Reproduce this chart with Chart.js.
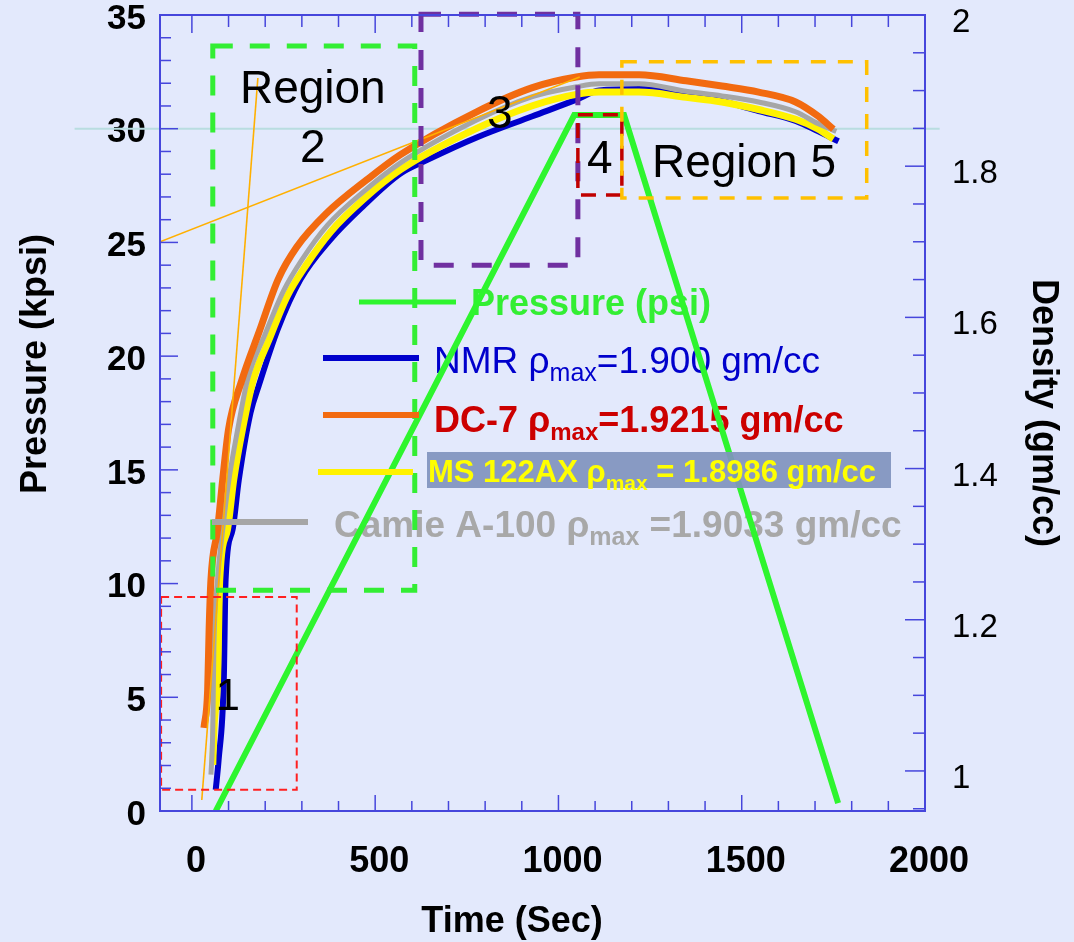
<!DOCTYPE html>
<html>
<head>
<meta charset="utf-8">
<script src="https://cdn.jsdelivr.net/npm/chart.js@4.4.0/dist/chart.umd.min.js"></script>
<style>
    html, body { margin: 0; padding: 0; background: #e3e9fc; }
    #wrap { width: 1074px; height: 942px; }
</style>
</head>
<body>
<div id="wrap"><canvas id="c_density"></canvas></div>
<script>
// **** DATA (time in sec, density in gm/cc, pressure in kpsi)
const nmrTime = [65, 73, 87, 92, 111, 128, 160, 182, 234, 296, 378, 467, 568, 641, 777, 929, 1049, 1111, 1220, 1348, 1446, 1546, 1647, 1709, 1764]
const nmrDensity = [0.975, 1.015, 1.12, 1.253, 1.319, 1.385, 1.474, 1.509, 1.584, 1.650, 1.703, 1.747, 1.790, 1.808, 1.838, 1.866, 1.888, 1.900, 1.902, 1.895, 1.886, 1.873, 1.860, 1.846, 1.833]

const dc7Time = [33, 43, 47, 52, 70, 84, 100, 135, 185, 235, 286, 368, 477, 568, 777, 929, 1049, 1111, 1220, 1348, 1446, 1546, 1647, 1709, 1750]
const dc7Density = [1.057, 1.107, 1.187, 1.253, 1.319, 1.385, 1.452, 1.515, 1.583, 1.650, 1.693, 1.738, 1.782, 1.815, 1.872, 1.904, 1.918, 1.921, 1.921, 1.913, 1.906, 1.898, 1.885, 1.866, 1.849]

const ms122Time = [57, 60, 70, 76, 97, 114, 138, 168, 210, 260, 310, 380, 470, 568, 777, 929, 1049, 1111, 1220, 1348, 1446, 1546, 1647, 1709, 1750]
const ms122Density = [1.008, 1.054, 1.12, 1.253, 1.319, 1.385, 1.452, 1.518, 1.570, 1.628, 1.668, 1.714, 1.757, 1.795, 1.850, 1.880, 1.895, 1.898, 1.898, 1.891, 1.885, 1.875, 1.862, 1.849, 1.836]

const camieTime = [52, 57, 60, 70, 84, 101, 125, 152, 200, 250, 300, 370, 470, 568, 777, 929, 1049, 1111, 1220, 1348, 1446, 1546, 1647, 1709, 1758]
const camieDensity = [0.995, 1.054, 1.164, 1.253, 1.319, 1.385, 1.452, 1.518, 1.578, 1.635, 1.676, 1.722, 1.767, 1.804, 1.861, 1.892, 1.905, 1.909, 1.909, 1.899, 1.893, 1.885, 1.872, 1.856, 1.846]

const pressureTime = [65, 1043, 1179, 1763]
const pressureKpsi = [0, 30.6, 30.6, 0.35]

// tangent guide lines (orange thin)
const tangentATime = [-87, 1058]
const tangentADensity = [1.700, 1.918]
const tangentBTime = [27, 180]
const tangentBDensity = [0.9615, 1.9167]

// tick labels
const timeTicks = [0, 500, 1000, 1500, 2000]
const pressureTicks = [0, 5, 10, 15, 20, 25, 30, 35]
const densityTicks = [1, 1.2, 1.4, 1.6, 1.8, 2]

// region boxes (time / density)
const regionNames = ['1', '2', '3', '4', '5']
const regionTimeFrom = [-84, 57, 625, 1053, 1173]
const regionTimeTo = [286, 608, 1053, 1173, 1841]
const regionDensFrom = [0.975, 1.239, 1.669, 1.762, 1.758]
const regionDensTo = [1.230, 1.959, 2.001, 1.868, 1.938]
// DATA EOF

const FONT = '"Liberation Sans", Arial, sans-serif'

function toXY(ts, vs) {
    return ts.map((t, i) => ({ x: t, y: vs[i] }))
}

// **** overlays drawn through the chart scales
const overlayBefore = {
    id: 'overlayBefore',
    beforeDatasetsDraw(chart) {
        const ctx = chart.ctx
        const sx = chart.scales.x, sp = chart.scales.y
        ctx.save()
        // 30 kpsi reference line
        ctx.strokeStyle = '#b9dde0'
        ctx.lineWidth = 2
        ctx.beginPath()
        ctx.moveTo(sx.getPixelForValue(-320), sp.getPixelForValue(30))
        ctx.lineTo(sx.getPixelForValue(2040), sp.getPixelForValue(30))
        ctx.stroke()

        // legend texts
        ctx.textBaseline = 'alphabetic'
        ctx.textAlign = 'left'
        ctx.fillStyle = '#33ee33'
        ctx.font = `bold 36px ${FONT}`
        ctx.fillText('Pressure (psi)', 471, 315)
        drawRho(ctx, 434, 373, 'NMR ', '=1.900 gm/cc', 37, '', '#0000cc')
        drawRho(ctx, 434, 432, 'DC-7 ', '=1.9215 gm/cc', 36, 'bold ', '#cc0000')
        drawRho(ctx, 334, 537, 'Camie A-100 ', ' =1.9033 gm/cc', 37, 'bold ', '#a8a8a8')
        ctx.restore()
    }
}

function drawRho(ctx, x, y, pre, post, size, weight, color) {
    ctx.fillStyle = color
    ctx.font = `${weight}${size}px ${FONT}`
    ctx.fillText(pre + 'ρ', x, y)
    x += ctx.measureText(pre + 'ρ').width
    const sub = Math.round(size * 0.68)
    ctx.font = `${weight}${sub}px ${FONT}`
    ctx.fillText('max', x, y + 8)
    x += ctx.measureText('max').width
    ctx.font = `${weight}${size}px ${FONT}`
    ctx.fillText(post, x, y)
}

const overlayAfter = {
    id: 'overlayAfter',
    afterDatasetsDraw(chart) {
        const ctx = chart.ctx
        const sx = chart.scales.x, sd = chart.scales.y2, sp = chart.scales.y
        const a = chart.chartArea
        ctx.save()

        // region boxes
        const boxStyle = [
            { color: '#ff2020', w: 2, dash: [8, 5] },
            { color: '#33ee33', w: 5, dash: [20, 17] },
            { color: '#7030a0', w: 5, dash: [20, 18] },
            { color: '#c00000', w: 3.5, dash: [15, 10] },
            { color: '#ffc000', w: 3.5, dash: [15, 12] }
        ]
        regionNames.forEach((n, i) => {
            const x0 = sx.getPixelForValue(regionTimeFrom[i])
            const x1 = sx.getPixelForValue(regionTimeTo[i])
            const y0 = sd.getPixelForValue(regionDensFrom[i])
            const y1 = sd.getPixelForValue(regionDensTo[i])
            ctx.strokeStyle = boxStyle[i].color
            ctx.lineWidth = boxStyle[i].w
            ctx.setLineDash(boxStyle[i].dash)
            ctx.strokeRect(x0, y1, x1 - x0, y0 - y1)
        })
        ctx.setLineDash([])

        // region labels
        ctx.fillStyle = '#000'
        ctx.textBaseline = 'alphabetic'
        ctx.font = `46px ${FONT}`
        ctx.textAlign = 'left'
        ctx.fillText('Region', sx.getPixelForValue(131), sd.getPixelForValue(1.8836))
        ctx.fillText('Region 5', sx.getPixelForValue(1255), sd.getPixelForValue(1.7857))
        ctx.textAlign = 'center'
        ctx.fillText('2', sx.getPixelForValue(330), sd.getPixelForValue(1.8055))
        ctx.fillText('3', sx.getPixelForValue(840), sd.getPixelForValue(1.8505))
        ctx.fillText('4', sx.getPixelForValue(1113), sd.getPixelForValue(1.791))
        ctx.font = `44px ${FONT}`
        ctx.fillText('1', sx.getPixelForValue(98), sd.getPixelForValue(1.0806))

        // legend line samples
        const legLine = (x0, x1, y, color, w) => {
            ctx.strokeStyle = color
            ctx.lineWidth = w
            ctx.beginPath()
            ctx.moveTo(x0, y)
            ctx.lineTo(x1, y)
            ctx.stroke()
        }
        legLine(359, 456, 302, '#2ef52e', 5)
        legLine(323, 419, 358, '#0000cc', 6)
        legLine(323, 419, 415, '#f26a10', 6)
        legLine(318, 413, 472, '#fff200', 6)
        legLine(212, 308, 522, '#a6a6a6', 6)

        // MS 122AX label with box
        ctx.fillStyle = 'rgba(128,146,190,0.92)'
        ctx.fillRect(427, 452, 464, 36)
        ctx.textAlign = 'left'
        drawRho(ctx, 428, 482, 'MS 122AX ', ' = 1.8986 gm/cc', 31, 'bold ', '#ffff00')

        // frame and inward ticks
        ctx.strokeStyle = 'rgb(70,70,220)'
        ctx.lineWidth = 1.5
        const tick = (x0, y0, x1, y1) => {
            ctx.beginPath()
            ctx.moveTo(x0, y0)
            ctx.lineTo(x1, y1)
            ctx.stroke()
        }
        for (let p = 0; p <= 35; p++) {
            const y = sp.getPixelForValue(p)
            tick(a.left, y, a.left + (p % 5 === 0 ? 18 : 11), y)
        }
        for (let i = 19; i <= 40; i++) {
            const y = sd.getPixelForValue(i * 0.05)
            tick(a.right, y, a.right - (i % 4 === 0 ? 20 : 12), y)
        }
        for (let t = 0; t <= 2000; t += 100) {
            const x = sx.getPixelForValue(t)
            tick(x, a.bottom, x, a.bottom - (t % 500 === 0 ? 16 : 10))
            tick(x, a.top, x, a.top + (t % 500 === 0 ? 18 : 12))
        }
        ctx.lineWidth = 2
        ctx.strokeRect(a.left, a.top, a.right - a.left, a.bottom - a.top)

        // axis titles
        ctx.fillStyle = '#000'
        ctx.font = `bold 36px ${FONT}`
        ctx.textAlign = 'center'
        ctx.textBaseline = 'middle'
        ctx.fillText('Time (Sec)', 512, 922)
        ctx.save()
        ctx.translate(36, 364)
        ctx.rotate(-Math.PI / 2)
        ctx.fillText('Pressure (kpsi)', 0, 0)
        ctx.restore()
        ctx.save()
        ctx.translate(1043, 413)
        ctx.rotate(Math.PI / 2)
        ctx.fillText('Density (gm/cc)', 0, 0)
        ctx.restore()

        ctx.restore()
    }
}

// **** CHART INIT
const ctx = document.getElementById('c_density').getContext('2d')

const lineDs = (label, data, color, width, axis) => ({
    label: label,
    data: data,
    borderColor: color,
    backgroundColor: color,
    borderWidth: width,
    pointRadius: 0,
    fill: false,
    cubicInterpolationMode: 'monotone',
    yAxisID: axis
})

const data = {
    datasets: [
        Object.assign(lineDs('tangentA', toXY(tangentATime, tangentADensity), '#ffb000', 1.6, 'y2'), { cubicInterpolationMode: 'default' }),
        Object.assign(lineDs('tangentB', toXY(tangentBTime, tangentBDensity), '#ffb000', 1.6, 'y2'), { cubicInterpolationMode: 'default' }),
        Object.assign(lineDs('Pressure (psi)', toXY(pressureTime, pressureKpsi), '#2ef52e', 6, 'y'), { cubicInterpolationMode: 'default' }),
        lineDs('DC-7', toXY(dc7Time, dc7Density), '#f26a10', 7, 'y2'),
        lineDs('Camie A-100', toXY(camieTime, camieDensity), '#a6a6a6', 5, 'y2'),
        lineDs('MS 122AX', toXY(ms122Time, ms122Density), '#fff200', 7, 'y2'),
        lineDs('NMR', toXY(nmrTime, nmrDensity), '#0000cc', 6, 'y2')
    ]
}

// drop the label half-height padding so the plot box matches the frame
const noPad = s => { s.paddingTop = 0; s.paddingBottom = 0; s.paddingLeft = 0; s.paddingRight = 0 }

const options = {
    responsive: true,
    maintainAspectRatio: false,
    animation: false,
    devicePixelRatio: 1,
    layout: { padding: { top: 15, left: 0, right: 0, bottom: 0 } },
    plugins: {
        legend: { display: false },
        tooltip: { enabled: false }
    },
    scales: {
        x: {
            type: 'linear',
            position: 'bottom',
            min: -87,
            max: 2000,
            grid: { display: false, drawTicks: false },
            border: { display: false },
            afterBuildTicks: s => { s.ticks = timeTicks.map(v => ({ value: v })) },
            afterFit: s => { s.height = 131; noPad(s) },
            ticks: {
                color: '#000',
                padding: 29,
                labelOffset: 4,
                maxRotation: 0,
                autoSkip: false,
                font: { family: FONT, size: 36, weight: 'bold' },
                callback: v => String(v)
            }
        },
        y: {
            type: 'linear',
            position: 'left',
            min: 0,
            max: 35,
            grid: { display: false, drawTicks: false },
            border: { display: false },
            afterBuildTicks: s => { s.ticks = pressureTicks.map(v => ({ value: v })) },
            afterFit: s => { s.width = 160; noPad(s) },
            ticks: {
                color: '#000',
                padding: 14,
                labelOffset: 4,
                autoSkip: false,
                font: { family: FONT, size: 35, weight: 'bold' },
                callback: v => String(v)
            }
        },
        y2: {
            type: 'linear',
            position: 'right',
            min: 0.947,
            max: 2.0,
            grid: { display: false, drawTicks: false },
            border: { display: false },
            afterBuildTicks: s => { s.ticks = densityTicks.map(v => ({ value: v })) },
            afterFit: s => { s.width = 149; noPad(s) },
            ticks: {
                color: '#000',
                padding: 27,
                labelOffset: 8,
                autoSkip: false,
                font: { family: FONT, size: 33 },
                callback: v => String(v)
            }
        }
    }
}

new Chart(ctx, {
    type: 'line',
    data: data,
    options: options,
    plugins: [overlayBefore, overlayAfter]
})
// **** EOF
</script>
</body>
</html>
